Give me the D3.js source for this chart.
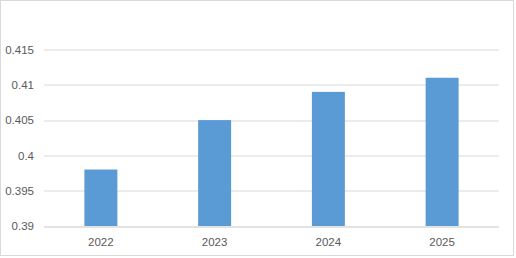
<!DOCTYPE html>
<html>
<head>
<meta charset="utf-8">
<script src="https://cdn.jsdelivr.net/npm/d3@7"></script>
<style>
  body { margin: 0; background: #fff; }
  svg text { font-family: "Liberation Sans", Arial, sans-serif; fill: #595959; }
</style>
</head>
<body>
<script>
const years = ["2022", "2023", "2024", "2025"];
const values = [0.398, 0.405, 0.409, 0.411];
const yTicks = [0.39, 0.395, 0.4, 0.405, 0.41, 0.415];

const W = 516, H = 258;
const margin = { top: 49.5, right: 17, bottom: 32, left: 44 };
const width = W - margin.left - margin.right;
const height = H - margin.top - margin.bottom;

const svg = d3.select("body").append("svg")
    .attr("width", W)
    .attr("height", H);

// chart frame
svg.append("rect")
    .attr("x", 0.5).attr("y", 0.5)
    .attr("width", 513).attr("height", 255)
    .attr("fill", "#fff")
    .attr("stroke", "#d9d9d9");

const g = svg.append("g")
    .attr("transform", `translate(${margin.left}, ${margin.top})`);

const x = d3.scaleBand()
    .domain(years)
    .range([0, width])
    .paddingInner(0.71)
    .paddingOuter(0.355);

const y = d3.scaleLinear()
    .domain([0.39, 0.415])
    .range([height, 0]);

// gridlines
g.selectAll(".grid")
    .data(yTicks)
    .enter().append("line")
    .attr("class", "grid")
    .attr("x1", 0).attr("x2", width)
    .attr("y1", d => Math.round(y(d)) + 0.5)
    .attr("y2", d => Math.round(y(d)) + 0.5)
    .attr("stroke", "#d9d9d9");

// y labels
const yAxis = d3.axisLeft(y).tickValues(yTicks).tickSize(0).tickPadding(10)
    .tickFormat(d => String(+d.toFixed(3)));
g.append("g").call(yAxis)
    .call(s => s.select(".domain").remove())
    .selectAll("text")
    .style("font-size", "11.5px")
    .attr("fill", "#595959");

// bars
g.selectAll(".bar")
    .data(values)
    .enter().append("rect")
    .attr("class", "bar")
    .attr("x", (d, i) => x(years[i]))
    .attr("width", x.bandwidth())
    .attr("y", d => y(d))
    .attr("height", d => y(0.39) - y(d))
    .attr("fill", "#5b9bd5");

// x axis
const xAxis = d3.axisBottom(x).tickSize(0).tickPadding(11);
g.append("g")
    .attr("transform", `translate(0, ${Math.round(height) + 0.5})`)
    .call(xAxis)
    .call(s => s.select(".domain").attr("stroke", "#d9d9d9").attr("d", `M0,0H${width}`))
    .selectAll("text")
    .style("font-size", "11.5px")
    .attr("fill", "#595959");
</script>
</body>
</html>
